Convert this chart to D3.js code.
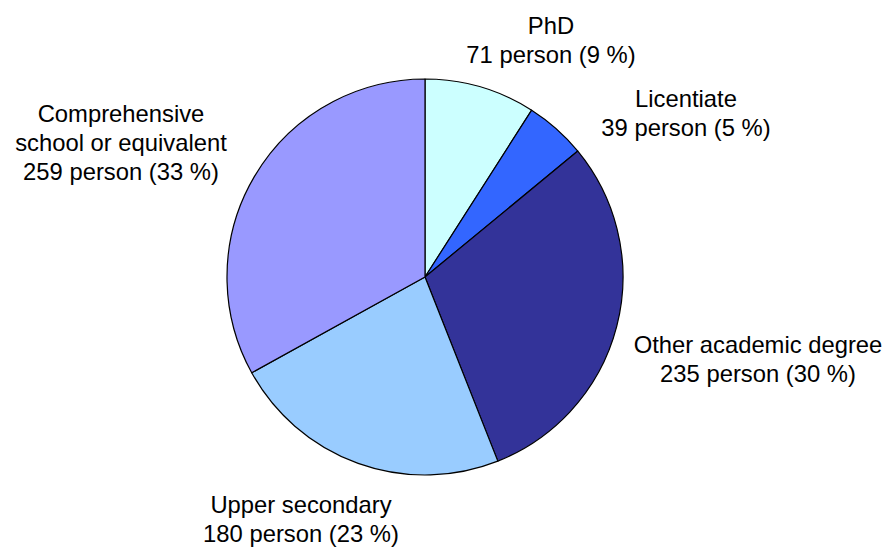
<!DOCTYPE html>
<html>
<head>
<meta charset="utf-8">
<script src="https://cdn.jsdelivr.net/npm/d3@7/dist/d3.min.js"></script>
<style>
  html, body { margin: 0; padding: 0; background: #fff; }
  svg { display: block; }
  text { font-family: "Liberation Sans", Arial, sans-serif; font-size: 23.8px; fill: #000; }
</style>
</head>
<body>
<svg id="chart" width="885" height="547"></svg>
<script>
// Education level of respondents
const categories = ["PhD", "Licentiate", "Other academic degree", "Upper secondary", "Comprehensive school or equivalent"];
const counts = [71, 39, 235, 180, 259];
const percents = [9, 5, 30, 23, 33];
const colors = ["#CCFFFF", "#3366FF", "#333399", "#99CCFF", "#9999FF"];

// Label text lines and placement (centre x, first baseline y)
const labelLines = [
  ["PhD"],
  ["Licentiate"],
  ["Other academic degree"],
  ["Upper secondary"],
  ["Comprehensive", "school or equivalent"]
];
const labelPos = [[551, 34], [686, 107], [758, 353], [301, 513], [121, 122]];
const lineGap = 29;

const width = 885, height = 547;
const cx = 425, cy = 277, radius = 198;

const svg = d3.select("#chart");
const g = svg.append("g").attr("transform", `translate(${cx},${cy})`);

const data = categories.map((c, i) => ({ name: c, value: counts[i], pct: percents[i], color: colors[i], i }));

const pie = d3.pie().value(d => d.value).sort(null).startAngle(0).endAngle(2 * Math.PI);
const arc = d3.arc().innerRadius(0).outerRadius(radius);

g.selectAll("path.slice")
  .data(pie(data))
  .join("path")
  .attr("class", "slice")
  .attr("d", arc)
  .attr("fill", d => d.data.color)
  .attr("stroke", "#000")
  .attr("stroke-width", 1.2)
  .attr("stroke-linejoin", "round");

const labels = svg.append("g").attr("class", "labels");
data.forEach((d, i) => {
  const lines = labelLines[i].concat([`${d.value} person (${d.pct} %)`]);
  const t = labels.append("text")
    .attr("text-anchor", "middle")
    .attr("x", labelPos[i][0])
    .attr("y", labelPos[i][1]);
  lines.forEach((ln, k) => {
    t.append("tspan")
      .attr("x", labelPos[i][0])
      .attr("y", labelPos[i][1] + k * lineGap)
      .text(ln);
  });
});
</script>
</body>
</html>
